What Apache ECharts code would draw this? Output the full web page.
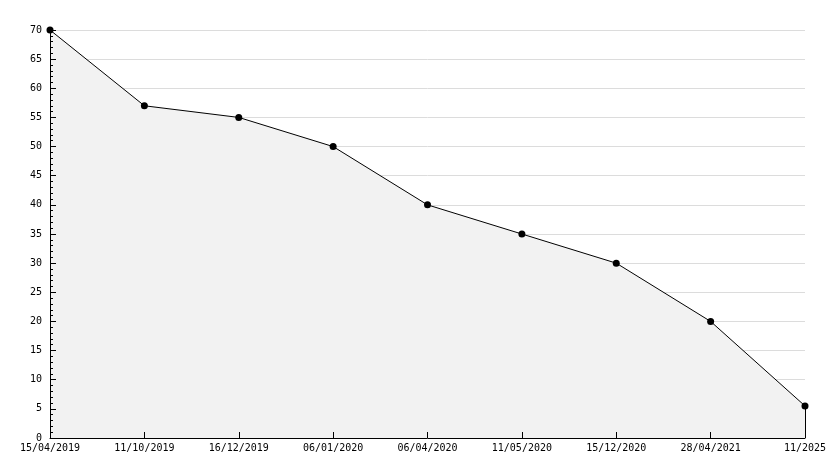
<!DOCTYPE html>
<html><head><meta charset="utf-8">
<script src="https://cdn.jsdelivr.net/npm/echarts@6/dist/echarts.min.js"></script>
<style>html,body{margin:0;padding:0;background:#fff}#c{width:834px;height:468px}</style>
</head><body><div id="c"></div>
<script>
const categories = ["15/04/2019","11/10/2019","16/12/2019","06/01/2020","06/04/2020","11/05/2020","15/12/2020","28/04/2021","11/2025"];
const values = [70,57,55,50,40,35,30,20,5.5];
const yMin = 0, yMax = 70, yInterval = 5;

const font = "'DejaVu Sans Mono', monospace";
const chart = echarts.init(document.getElementById('c'));
const lastIdx = categories.length - 1;
chart.setOption({
  animation: false,
  backgroundColor: '#fff',
  grid: {left: 50, right: 29, top: 30, bottom: 30},
  xAxis: {
    type: 'category', data: categories, boundaryGap: false, z: 10,
    axisLine: {lineStyle: {color: '#000', width: 1}},
    axisTick: {inside: true, length: 6, lineStyle: {color: '#000'}},
    axisLabel: {color: '#000', fontFamily: font, fontSize: 10, margin: 5, interval: 0},
    splitLine: {show: false}
  },
  yAxis: [{
    type: 'value', min: yMin, max: yMax, interval: yInterval, z: 0,
    axisLine: {show: false}, axisTick: {show: false},
    axisLabel: {show: false},
    splitLine: {show: true, lineStyle: {color: '#dcdcdc', width: 1}}
  }, {
    type: 'value', min: yMin, max: yMax, interval: yInterval, z: 10, position: 'left',
    axisLine: {show: true, lineStyle: {color: '#000', width: 1}},
    axisTick: {show: true, inside: true, length: 6, lineStyle: {color: '#000'}},
    minorTick: {show: true, splitNumber: 5, length: 3, lineStyle: {color: '#000'}},
    axisLabel: {color: '#000', fontFamily: font, fontSize: 10, margin: 8},
    splitLine: {show: false}
  }],
  series: [{
    type: 'line', data: values, yAxisIndex: 0,
    lineStyle: {color: '#000', width: 1},
    areaStyle: {color: '#f2f2f2', opacity: 1},
    symbol: 'circle', symbolSize: 7,
    itemStyle: {color: '#000'},
    markLine: {
      silent: true, symbol: 'none', label: {show: false},
      lineStyle: {color: '#000', width: 1, type: 'solid'},
      data: [[{coord: [lastIdx, yMin]}, {coord: [lastIdx, values[lastIdx]]}]]
    }
  }]
});
</script></body></html>
